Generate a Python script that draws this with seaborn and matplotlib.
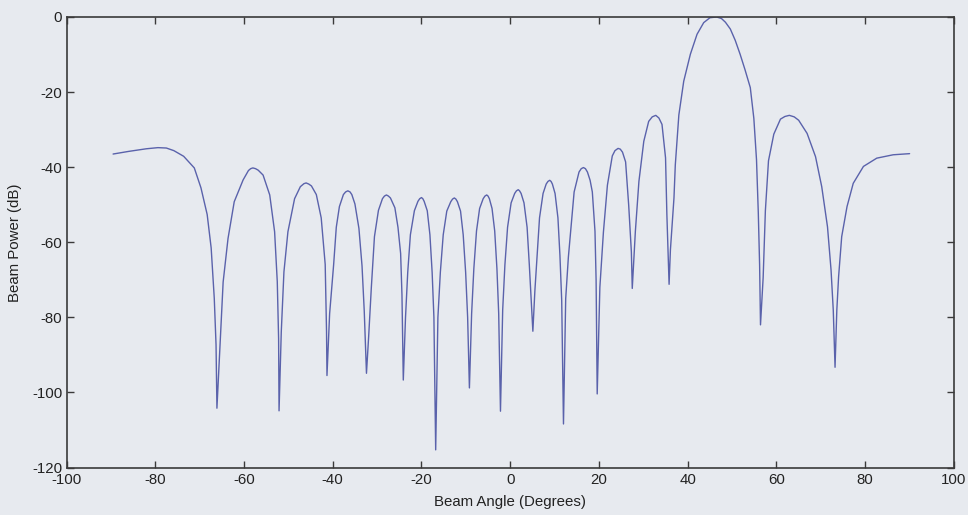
import matplotlib
matplotlib.use("Agg")
import matplotlib.pyplot as plt
import seaborn as sns
import pandas as pd

# beam pattern, one row per lobe
angle_deg = [
    -89.5, -86.0, -82.0, -79.4, -77.5, -75.8, -73.6, -71.2, -69.7, -68.3, -67.4, -66.7, -66.3, -66.1,
    -65.4, -64.7, -63.6, -62.2, -60.2, -59.0, -58.5, -58.0, -57.4, -56.8, -55.7, -54.2, -53.1, -52.5, -52.2, -52.1,
    -51.6, -51.0, -50.1, -48.6, -47.3, -46.5, -46.0, -45.4, -44.8, -43.7, -42.6, -41.7, -41.4, -41.3,
    -40.7, -39.8, -39.2, -38.5, -37.6, -37.1, -36.6, -36.1, -35.7, -35.0, -34.1, -33.4, -32.9, -32.4,
    -31.9, -31.3, -30.6, -29.7, -28.8, -28.35, -27.9, -27.45, -27.0, -26.0, -25.3, -24.7, -24.4, -24.1,
    -23.6, -23.1, -22.5, -21.6, -20.8, -20.4, -20.0, -19.7, -19.4, -18.7, -18.1, -17.6, -17.2, -16.8,
    -16.3, -15.75, -15.1, -14.3, -13.4, -13.0, -12.6, -12.25, -11.9, -11.2, -10.6, -10.05, -9.6, -9.2,
    -8.7, -8.2, -7.6, -6.9, -6.1, -5.7, -5.3, -5.0, -4.7, -4.1, -3.5, -3.0, -2.6, -2.2,
    -1.7, -1.2, -0.6, 0.2, 1.0, 1.4, 1.8, 2.1, 2.45, 3.1, 3.8, 4.3, 4.7, 5.1,
    5.55, 6.05, 6.6, 7.4, 8.1, 8.5, 8.9, 9.2, 9.5, 10.1, 10.75, 11.2, 11.6, 12.0,
    12.5, 13.1, 13.6, 14.4, 15.5, 16.0, 16.5, 16.95, 17.4, 18.0, 18.5, 19.1, 19.35, 19.6,
    20.2, 21.0, 21.9, 23.0, 23.6, 24.3, 24.8, 25.3, 26.0, 26.7, 27.3, 27.5,
    28.2, 29.0, 30.1, 31.2, 32.0, 32.8, 33.5, 34.2, 35.0, 35.3, 35.8,
    36.1, 36.5, 36.9, 37.2, 38.0, 39.1, 40.6, 42.1, 43.6, 45.0, 46.5, 47.6, 48.5, 49.6,
    50.7, 51.8, 52.9, 54.1, 54.9, 55.5, 55.9, 56.2, 56.4,
    57.0, 57.5, 58.2, 59.4, 60.9, 61.9, 62.9, 64.0, 65.0, 66.9, 68.8, 70.2, 71.5, 72.3, 72.8, 73.2,
    73.6, 74.0, 74.7, 75.9, 77.3, 79.6, 82.6, 86.3, 90.0,
]
power_db = [
    -36.5, -35.8, -35.1, -34.8, -34.9, -35.6, -37.1, -40.2, -45.5, -52.6, -61.5, -74.9, -87.3, -104.2,
    -87.2, -70.6, -59.0, -49.2, -43.4, -40.9, -40.4, -40.2, -40.4, -40.8, -42.1, -47.4, -57.2, -70.5, -85.7, -104.9,
    -83.9, -67.9, -57.2, -48.4, -45.2, -44.4, -44.2, -44.5, -45.0, -47.3, -53.5, -65.9, -83.7, -95.5,
    -79.0, -66.0, -56.0, -50.5, -47.3, -46.6, -46.3, -46.6, -47.3, -49.8, -56.3, -66.3, -78.3, -94.9,
    -85.0, -72.0, -58.5, -51.5, -48.4, -47.7, -47.4, -47.7, -48.2, -50.8, -56.0, -63.0, -74.0, -96.7,
    -80.0, -68.0, -58.0, -51.6, -49.1, -48.4, -48.1, -48.4, -49.1, -51.6, -58.0, -68.0, -80.0, -115.3,
    -80.0, -68.0, -58.0, -51.7, -49.2, -48.5, -48.2, -48.5, -49.2, -51.7, -58.0, -68.0, -80.0, -98.8,
    -79.0, -67.0, -57.0, -51.0, -48.4, -47.7, -47.4, -47.7, -48.4, -51.0, -57.0, -67.0, -79.0, -105.0,
    -78.0, -66.0, -56.0, -49.5, -47.0, -46.3, -46.0, -46.3, -47.0, -49.5, -56.0, -66.0, -75.0, -83.7,
    -73.0, -63.5, -53.5, -47.0, -44.5, -43.8, -43.5, -43.8, -44.5, -47.0, -53.5, -63.5, -75.5, -108.4,
    -75.0, -64.0, -57.2, -46.6, -41.3, -40.4, -40.1, -40.4, -41.3, -43.5, -46.6, -57.1, -70.0, -100.4,
    -72.0, -57.3, -44.8, -37.0, -35.6, -35.0, -35.2, -36.0, -38.6, -50.2, -62.6, -72.3,
    -57.1, -43.8, -33.1, -27.8, -26.6, -26.2, -26.9, -28.6, -37.5, -52.6, -71.2,
    -62.0, -55.0, -48.2, -39.4, -26.1, -17.1, -9.9, -4.6, -1.5, -0.2, 0.0, -0.4, -1.4, -3.2,
    -6.2, -9.9, -14.0, -18.8, -27.0, -38.0, -52.0, -66.0, -82.0,
    -69.4, -51.6, -38.3, -31.2, -27.2, -26.5, -26.2, -26.6, -27.5, -31.0, -37.2, -45.2, -55.9, -67.4, -78.1, -93.3,
    -78.1, -69.2, -58.5, -50.5, -44.3, -39.8, -37.6, -36.7, -36.4,
]

x_ticks = [-100, -80, -60, -40, -20, 0, 20, 40, 60, 80, 100]
y_ticks = [-120, -100, -80, -60, -40, -20, 0]

bg = "#e7eaef"
ink = "#3a3a3a"

sns.set_theme(style="ticks")
plt.rcParams["font.family"] = ["Liberation Sans", "DejaVu Sans"]
plt.rcParams["axes.unicode_minus"] = False

df = pd.DataFrame({"angle": angle_deg, "power": power_db})

fig = plt.figure(figsize=(9.68, 5.15), dpi=100, facecolor=bg)
ax = fig.add_axes([0.0687, 0.0922, 0.9168, 0.8748])
ax.set_facecolor(bg)

sns.lineplot(data=df, x="angle", y="power", sort=False, estimator=None,
             color="#5a62ab", linewidth=1.0, ax=ax)

ax.set_xlim(-100, 100)
ax.set_ylim(-120, 0)
ax.set_xticks(x_ticks)
ax.set_yticks(y_ticks)
ax.tick_params(direction="in", length=5, width=1.0, color=ink, labelcolor="#222222",
               labelsize=10.8, top=True, right=True, pad=4)
ax.tick_params(axis="y", pad=3)
for s in ax.spines.values():
    s.set_color(ink)
    s.set_linewidth(1.2)

ax.set_xlabel("Beam Angle (Degrees)", fontsize=10.8, color="#222222", labelpad=6)
ax.set_ylabel("Beam Power (dB)", fontsize=10.8, color="#222222", labelpad=7)

fig.savefig("out.png", dpi=100, facecolor=bg)
